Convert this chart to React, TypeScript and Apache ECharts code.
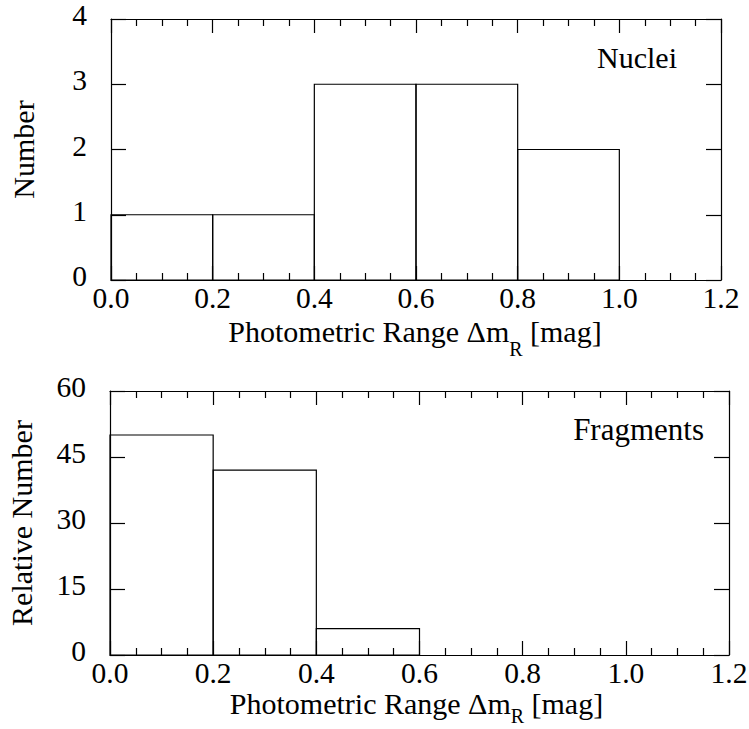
import React, { useEffect, useRef } from "react";
import * as echarts from "echarts";

const binEdges = [0, 0.2, 0.4, 0.6, 0.8, 1.0, 1.2];
const nucleiCounts = [1, 1, 3, 3, 2];
const fragmentCounts = [50, 42, 6];
const xTicks = ["0.0", "0.2", "0.4", "0.6", "0.8", "1.0", "1.2"];
const nucleiYTicks = [0, 1, 2, 3, 4];
const fragmentYTicks = [0, 15, 30, 45, 60];

const FONT = '"Liberation Serif", "Times New Roman", serif';
const FS = 29.5;
const LW = 1.2;

function histData(counts: number[]) {
  return counts.map((c, i) => [binEdges[i], binEdges[i + 1], c]);
}

function renderBar(params: any, api: any) {
  const x0 = api.value(0);
  const x1 = api.value(1);
  const y = api.value(2);
  const p0 = api.coord([x0, y]);
  const p1 = api.coord([x1, 0]);
  return {
    type: "rect",
    shape: { x: p0[0], y: p0[1], width: p1[0] - p0[0], height: p1[1] - p0[1] },
    style: { fill: "none", stroke: "#000", lineWidth: LW },
  };
}

const axisLine = { show: true, onZero: false, lineStyle: { color: "#000", width: LW } };

function xAxes(gridIndex: number, nameGap: number, shiftLeft: number, subDrop: number) {
  const common = {
    gridIndex,
    type: "value",
    min: 0,
    max: 1.2,
    interval: 0.2,
    axisLine,
    axisTick: { show: true, inside: true, length: 14, lineStyle: { color: "#000", width: LW } },
    minorTick: { show: true, splitNumber: 4, length: 7, lineStyle: { color: "#000", width: LW } },
    splitLine: { show: false },
    minorSplitLine: { show: false },
  };
  return [
    {
      ...common,
      position: "bottom",
      axisLabel: {
        show: true,
        margin: 7,
        color: "#000",
        fontFamily: FONT,
        fontSize: FS,
        lineHeight: 22,
        formatter: (v: number) => xTicks[Math.round(v / 0.2)] ?? v.toFixed(1),
      },
      name: "Photometric Range Δm{sub|R} [mag]",
      nameLocation: "middle",
      nameGap,
      nameMoveOverlap: false,
      nameTextStyle: {
        color: "#000",
        fontFamily: FONT,
        fontSize: 30,
        lineHeight: 30,
        padding: [0, shiftLeft, 0, 0],
        rich: {
          sub: { color: "#000", fontFamily: FONT, fontSize: 20, lineHeight: 30, padding: [subDrop, 0, 0, 0] },
        },
      },
    },
    { ...common, position: "top", axisLabel: { show: false } },
  ];
}

function yAxes(gridIndex: number, ticks: number[], name: string, nameGap: number) {
  const common = {
    gridIndex,
    type: "value",
    min: ticks[0],
    max: ticks[ticks.length - 1],
    interval: ticks[1] - ticks[0],
    axisLine,
    axisTick: { show: true, inside: true, length: 15, lineStyle: { color: "#000", width: LW } },
    splitLine: { show: false },
  };
  return [
    {
      ...common,
      position: "left",
      axisLabel: {
        show: true,
        margin: 24,
        color: "#000",
        fontFamily: FONT,
        fontSize: FS,
        verticalAlign: "bottom",
        lineHeight: 8,
      },
      name,
      nameLocation: "middle",
      nameGap,
      nameMoveOverlap: false,
      nameTextStyle: { color: "#000", fontFamily: FONT, fontSize: 30 },
    },
    { ...common, position: "right", axisLabel: { show: false } },
  ];
}

export default function App() {
  const ref = useRef<HTMLDivElement>(null);
  useEffect(() => {
    if (!ref.current) return;
    const chart = echarts.init(ref.current, undefined, { renderer: "svg" });
    const option: any = {
      animation: false,
      backgroundColor: "#fff",
      grid: [
        { left: 111, top: 19, width: 610, height: 261, outerBoundsMode: "none", containLabel: false },
        { left: 110, top: 391, width: 619, height: 264, outerBoundsMode: "none", containLabel: false },
      ],
      xAxis: [...xAxes(0, 36, 2, 36), ...xAxes(1, 33, 6, 26)],
      yAxis: [
        ...yAxes(0, nucleiYTicks, "Number", 73),
        ...yAxes(1, fragmentYTicks, "Relative Number", 74),
      ],
      series: [
        {
          type: "custom",
          xAxisIndex: 0,
          yAxisIndex: 0,
          data: histData(nucleiCounts),
          encode: { x: [0, 1], y: 2 },
          renderItem: renderBar,
        },
        {
          type: "custom",
          xAxisIndex: 2,
          yAxisIndex: 2,
          data: histData(fragmentCounts),
          encode: { x: [0, 1], y: 2 },
          renderItem: renderBar,
        },
      ],
      graphic: [
        {
          type: "text",
          x: 677,
          y: 57,
          style: { text: "Nuclei", fill: "#000", fontFamily: FONT, fontSize: 30, align: "right", verticalAlign: "middle" },
        },
        {
          type: "text",
          x: 704,
          y: 429,
          style: { text: "Fragments", fill: "#000", fontFamily: FONT, fontSize: 31, align: "right", verticalAlign: "middle" },
        },
      ],
    };
    chart.setOption(option);
    return () => chart.dispose();
  }, []);
  return <div ref={ref} style={{ position: "fixed", left: 0, top: 0, width: 749, height: 729 }} />;
}
